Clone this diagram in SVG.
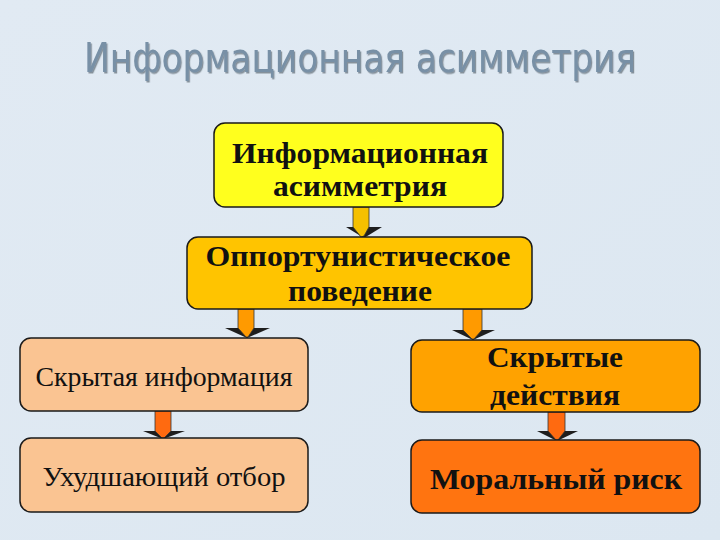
<svg xmlns="http://www.w3.org/2000/svg" width="720" height="540" viewBox="0 0 720 540">
<defs>
<linearGradient id="bg" x1="0" y1="0" x2="1" y2="1">
<stop offset="0" stop-color="#e1eaf3"/>
<stop offset="1" stop-color="#dce7f1"/>
</linearGradient>
<filter id="sh" x="-5%" y="-20%" width="110%" height="140%">
<feDropShadow dx="1.2" dy="1.5" stdDeviation="0.6" flood-color="#3a4653" flood-opacity="0.55"/>
</filter>
</defs>
<style>
.box{stroke:#1a1a1a;stroke-width:1.5}
.tb{font-family:"Liberation Serif","Times New Roman",serif;font-weight:bold;fill:#111;text-anchor:middle}
.tr{font-family:"Liberation Serif","Times New Roman",serif;fill:#111;text-anchor:middle}
.head{fill:#1e1e1e}
.title{font-family:"DejaVu Sans Condensed","DejaVu Sans",sans-serif;font-size:41px;fill:#7890a6;text-anchor:middle}
</style>
<rect width="720" height="540" fill="url(#bg)"/>
<g id="title">
<text class="title" x="360" y="72" textLength="552" lengthAdjust="spacingAndGlyphs" filter="url(#sh)">Информационная асимметрия</text>
</g>
<g id="connectors">
<g id="a1">
<polygon class="head" points="346,227 382,227 364,238"/>
<polygon points="353,207 369,207 369,227 364,236 361,237 353,227" fill="#f5c000" stroke="#333" stroke-width="0.8"/>
</g>
<g id="a2">
<polygon class="head" points="225,328 270,328 247,338"/>
<polygon points="238,309 254,309 254,328 248,337 246,337 238,328" fill="#ff9a00" stroke="#333" stroke-width="0.8"/>
</g>
<g id="a3">
<polygon class="head" points="452,330 495,330 473,340"/>
<polygon points="463,309 482,309 482,330 474,339 472,339 463,330" fill="#ff9a00" stroke="#333" stroke-width="0.8"/>
</g>
<g id="a4">
<polygon class="head" points="143,431 185,431 163,439"/>
<polygon points="155,411 171,411 171,431 164,438 162,438 155,431" fill="#ff6a10" stroke="#333" stroke-width="0.8"/>
</g>
<g id="a5">
<polygon class="head" points="537,431 578,431 557,441"/>
<polygon points="548,412 565,412 565,431 558,440 556,440 548,431" fill="#ff6a10" stroke="#333" stroke-width="0.8"/>
</g>
</g>
<g id="n1">
<rect class="box" x="214" y="123" width="289" height="84" rx="11" fill="#ffff1e"/>
<text class="tb" x="360" y="163" font-size="29" textLength="256" lengthAdjust="spacingAndGlyphs">Информационная</text>
<text class="tb" x="360" y="196" font-size="29" textLength="174" lengthAdjust="spacingAndGlyphs">асимметрия</text>
</g>
<g id="n2">
<rect class="box" x="187" y="237" width="345" height="72" rx="11" fill="#ffc400"/>
<text class="tb" x="358" y="266" font-size="29" textLength="305" lengthAdjust="spacingAndGlyphs">Оппортунистическое</text>
<text class="tb" x="360" y="301" font-size="29" textLength="144" lengthAdjust="spacingAndGlyphs">поведение</text>
</g>
<g id="n3">
<rect class="box" x="20" y="338" width="288" height="73" rx="11" fill="#fac492"/>
<text class="tr" x="164" y="386" font-size="28" textLength="257" lengthAdjust="spacingAndGlyphs">Скрытая информация</text>
</g>
<g id="n4">
<rect class="box" x="411" y="340" width="289" height="72" rx="11" fill="#ffa200"/>
<text class="tb" x="555" y="367" font-size="30" textLength="136" lengthAdjust="spacingAndGlyphs">Скрытые</text>
<text class="tb" x="555" y="405" font-size="30" textLength="130" lengthAdjust="spacingAndGlyphs">действия</text>
</g>
<g id="n5">
<rect class="box" x="20" y="438" width="288" height="74" rx="11" fill="#fac492"/>
<text class="tr" x="164" y="486" font-size="28" textLength="243" lengthAdjust="spacingAndGlyphs">Ухудшающий отбор</text>
</g>
<g id="n6">
<rect class="box" x="411" y="440" width="289" height="73" rx="11" fill="#ff7410"/>
<text class="tb" x="556" y="489" font-size="30" textLength="252" lengthAdjust="spacingAndGlyphs">Моральный риск</text>
</g>
</svg>
